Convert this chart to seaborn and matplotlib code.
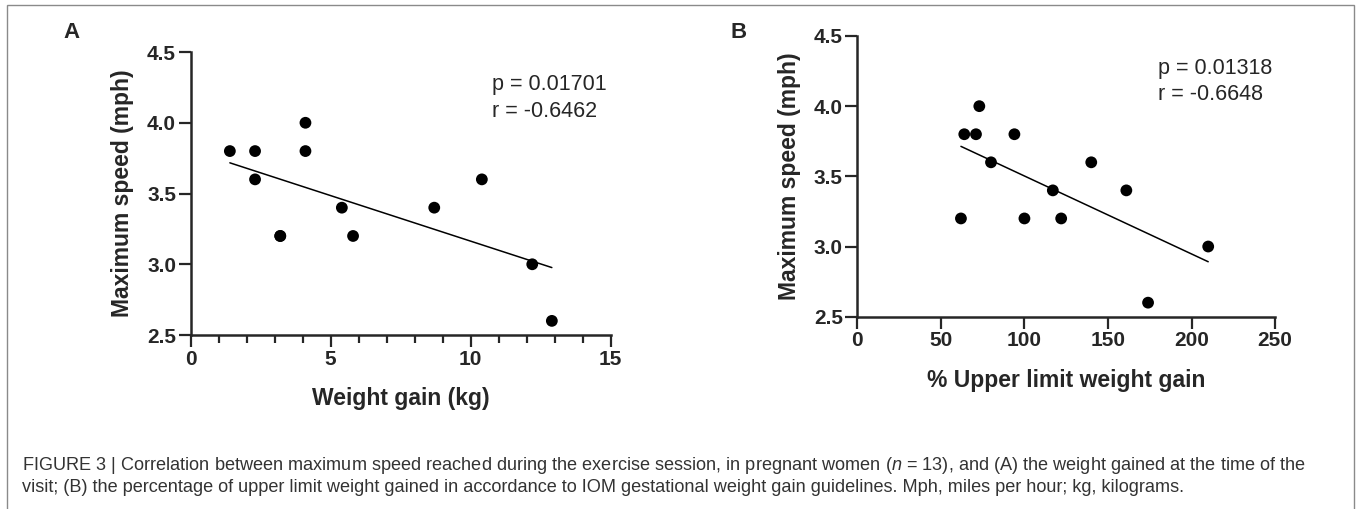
import matplotlib
matplotlib.use("Agg")
import matplotlib.pyplot as plt
import seaborn as sns
import pandas as pd
from matplotlib.ticker import AutoMinorLocator, FormatStrFormatter
from matplotlib.patches import Rectangle

# panel A: weight gain (kg) vs maximum speed (mph)
weight_gain = [1.4, 2.3, 2.3, 3.2, 3.2, 4.1, 4.1, 5.4, 5.8, 8.7, 10.4, 12.2, 12.9]
speed_a = [3.8, 3.8, 3.6, 3.2, 3.2, 4.0, 3.8, 3.4, 3.2, 3.4, 3.6, 3.0, 2.6]

# panel B: % upper limit weight gain vs maximum speed (mph)
pct_upper = [62, 64, 71, 73, 80, 94, 100, 117, 122, 140, 161, 174, 210]
speed_b = [3.2, 3.8, 3.8, 4.0, 3.6, 3.8, 3.2, 3.4, 3.2, 3.6, 3.4, 2.6, 3.0]

stats_a = ["p = 0.01701", "r = -0.6462"]
stats_b = ["p = 0.01318", "r = -0.6648"]

caption_1 = ("FIGURE 3 | Correlation between maximum speed reached during the exercise session, "
             "in pregnant women ($\\it{n}$ = 13), and (A) the weight gained at the time of the")
caption_2 = ("visit; (B) the percentage of upper limit weight gained in accordance to IOM "
             "gestational weight gain guidelines. Mph, miles per hour; kg, kilograms.")

sns.set_style("ticks")
plt.rcParams['font.family'] = ['Liberation Sans', 'DejaVu Sans']
plt.rcParams['mathtext.fontset'] = 'custom'
plt.rcParams['mathtext.rm'] = 'Liberation Sans'
plt.rcParams['mathtext.it'] = 'Liberation Sans:italic'

df_a = pd.DataFrame({'x': weight_gain, 'y': speed_a})
df_b = pd.DataFrame({'x': pct_upper, 'y': speed_b})

fig = plt.figure(figsize=(13.57, 5.09), dpi=100)
ax_a = fig.add_axes([0.1405, 0.3418, 0.3095, 0.5560])
ax_b = fig.add_axes([0.6318, 0.3778, 0.3078, 0.5515])


def draw_panel(ax, df, xlim, xticks, xlabel, stats):
    sns.regplot(data=df, x='x', y='y', ax=ax, scatter=False, ci=None, truncate=True,
                line_kws={'color': 'black', 'lw': 1.1})
    sns.scatterplot(data=df, x='x', y='y', ax=ax, color='black', s=72,
                    edgecolor='none', zorder=3, clip_on=False)
    ax.set_xlim(*xlim)
    ax.set_ylim(2.5, 4.5)
    ax.set_xticks(xticks)
    ax.set_yticks([2.5, 3.0, 3.5, 4.0, 4.5])
    ax.yaxis.set_major_formatter(FormatStrFormatter('%.1f'))
    sns.despine(ax=ax)
    for side in ['left', 'bottom']:
        ax.spines[side].set_linewidth(1.8)
    ax.tick_params(which='major', length=8.5, width=1.6, labelsize=15, pad=2)
    ax.tick_params(which='minor', length=5.5, width=1.6)
    for lab in ax.get_xticklabels() + ax.get_yticklabels():
        lab.set_fontweight('bold')
    ax.set_xlabel(xlabel, fontsize=16.5, fontweight='bold')
    ax.set_ylabel('Maximum speed (mph)', fontsize=16.5, fontweight='bold')
    ax.xaxis.set_label_coords(0.5, -0.185)
    ax.yaxis.set_label_coords(-0.135, 0.5)
    ax.text(xlim[0] + (xlim[1] - xlim[0]) * 0.7186, 4.27, stats[0], fontsize=15.5, va='center')
    ax.text(xlim[0] + (xlim[1] - xlim[0]) * 0.7186, 4.08, stats[1], fontsize=15.5, va='center')


draw_panel(ax_a, df_a, (0, 15), [0, 5, 10, 15], 'Weight gain (kg)', stats_a)
ax_a.xaxis.set_minor_locator(AutoMinorLocator(5))
draw_panel(ax_b, df_b, (0, 250), [0, 50, 100, 150, 200, 250], '% Upper limit weight gain', stats_b)

fig.text(0.0464, 1 - 33 / 509, 'A', fontsize=16, fontweight='bold', va='center')
fig.text(0.5380, 1 - 33 / 509, 'B', fontsize=16, fontweight='bold', va='center')

fig.text(22 / 1357, 1 - 466 / 509, caption_1, fontsize=13.1, color='#333333', va='center')
fig.text(22 / 1357, 1 - 488 / 509, caption_2, fontsize=13.1, color='#333333', va='center')

# grey frame around the figure (bottom edge falls outside the image)
fig.patches.append(Rectangle((7 / 1357, -0.05), (1354 - 7) / 1357, 1.05 - 5 / 509,
                             transform=fig.transFigure, fill=False,
                             edgecolor='#8a8a8a', lw=1.0))

fig.savefig('out.png', dpi=100)
